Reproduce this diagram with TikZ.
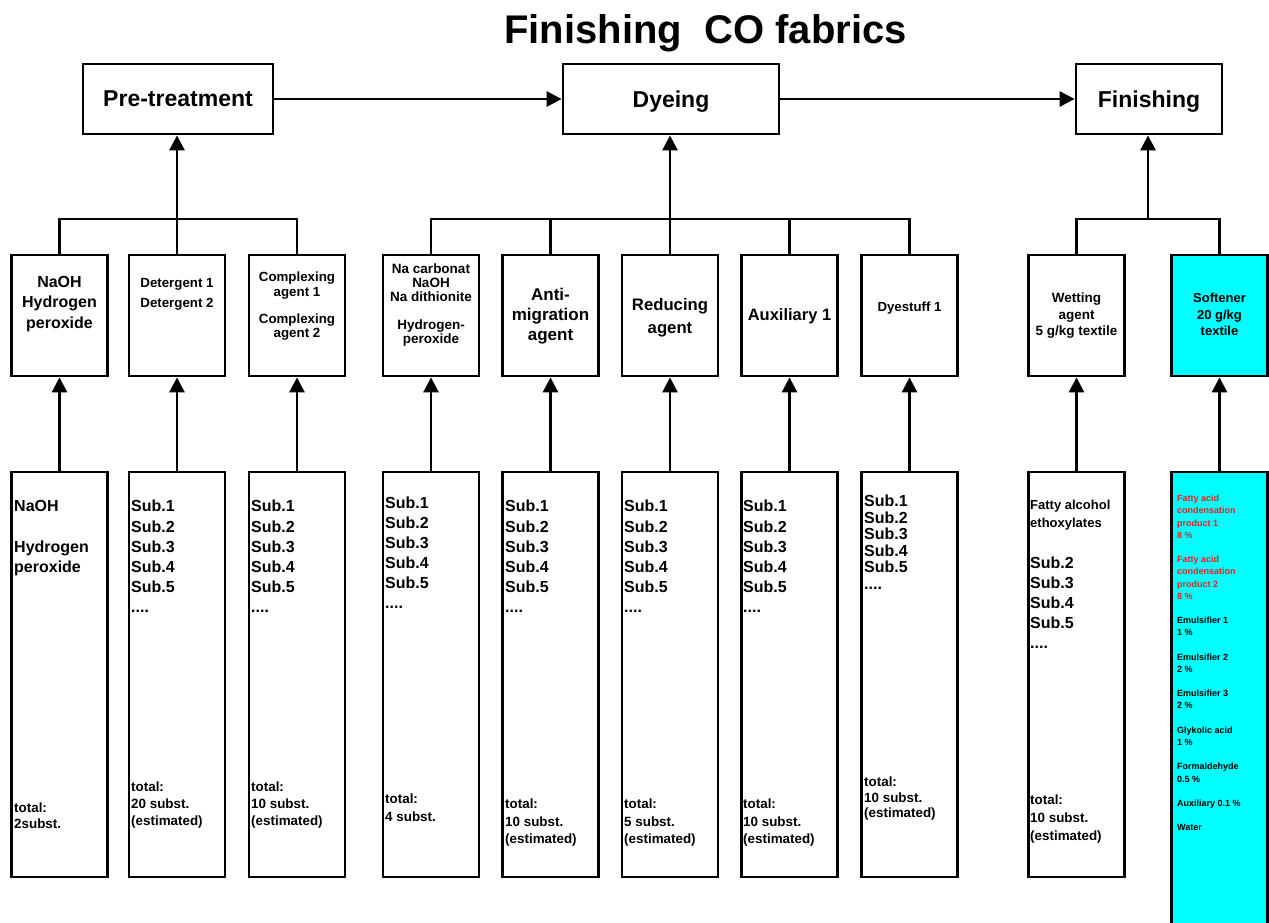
\documentclass[tikz,border=0pt]{standalone}
\usepackage{fontspec}
\setmainfont{Liberation Sans}
\usetikzlibrary{arrows.meta}
\definecolor{softcyan}{RGB}{0,255,255}
\definecolor{alertred}{RGB}{235,30,35}
% bold text at a given size and line skip
\newcommand\fs[2]{\fontsize{#1}{#2}\selectfont\bfseries}

\begin{document}
\begin{tikzpicture}[x=1pt,y=-1pt,
  box/.style={draw, line width=2.8pt, inner sep=0pt, minimum width=96pt},
  stage/.style={box, minimum height=70pt, text depth=0pt, font=\fs{23}{28}},
  agent/.style={box, minimum height=121pt},
  sublist/.style={box, minimum height=405pt},
  wire/.style={line width=2.8pt},
  arr/.style={wire, -{Triangle[length=15pt,width=15pt]}},
  ltxt/.style={inner sep=0pt, align=left, anchor=north west},
  ctxt/.style={inner sep=0pt, align=center, anchor=north},
]
\useasboundingbox (0,0) rectangle (1269,922);

% title
\node[font=\fs{40}{48}, inner sep=0pt, anchor=base] (title) at (705.5,43.3) {Finishing\ \ CO fabrics};

% process stages
\node[stage, minimum width=190pt] (pre) at (178,99) {Pre-treatment};
\node[stage, minimum width=216pt] (dye) at (671,99) {Dyeing};
\node[stage, minimum width=146pt] (fin) at (1149,99) {Finishing};
\draw[arr] (pre) -- (dye);
\draw[arr] (dye) -- (fin);

% chemical agents
\node[agent] (m1) at (59.5,315.5) {};
\node[agent] (m2) at (177,315.5) {};
\node[agent] (m3) at (297,315.5) {};
\node[agent] (m4) at (431,315.5) {};
\node[agent] (m5) at (550.5,315.5) {};
\node[agent] (m6) at (670,315.5) {};
\node[agent] (m7) at (789.5,315.5) {};
\node[agent] (m8) at (909.5,315.5) {};
\node[agent] (m9) at (1076.5,315.5) {};
\node[agent, fill=softcyan] (m10) at (1219.5,315.5) {};

\node[ctxt, font=\fs{16}{20.5}] (t1) at (59.5,276) {NaOH\\Hydrogen\\peroxide};
\node[ctxt, font=\fs{13.3}{20}] (t2) at (177,278) {Detergent 1\\Detergent 2};
\node[ctxt, font=\fs{13.3}{14.5}] (t3) at (297,272) {Complexing\\agent 1\\[12.5pt]Complexing\\agent 2};
\node[ctxt, font=\fs{13.5}{14}] (t4) at (431,264) {Na carbonat\\NaOH\\Na dithionite\\[14pt]Hydrogen-\\peroxide};
\node[ctxt, font=\fs{17}{20}] (t5) at (550.5,288) {Anti-\\migration\\agent};
\node[ctxt, font=\fs{16.7}{23}] (t6) at (670,298) {Reducing\\agent};
\node[ctxt, font=\fs{16.5}{20}] (t7) at (789.5,308) {Auxiliary 1};
\node[ctxt, font=\fs{13.2}{16}] (t8) at (909.5,302) {Dyestuff 1};
\node[ctxt, font=\fs{13.5}{16.5}] (t9) at (1076.5,293) {Wetting\\agent\\5 g/kg textile};
\node[ctxt, font=\fs{13}{16.5}] (t10) at (1219.5,293) {Softener\\20 g/kg\\textile};

% substance lists
\node[sublist] (b1) at (59.5,674.5) {};
\node[sublist] (b2) at (177,674.5) {};
\node[sublist] (b3) at (297,674.5) {};
\node[sublist] (b4) at (431,674.5) {};
\node[sublist] (b5) at (550.5,674.5) {};
\node[sublist] (b6) at (670,674.5) {};
\node[sublist] (b7) at (789.5,674.5) {};
\node[sublist] (b8) at (909.5,674.5) {};
\node[sublist] (b9) at (1076.5,674.5) {};
\node[box, minimum height=470pt, fill=softcyan] (b10) at (1219.5,707) {};

\node[ltxt, font=\fs{16}{20}] (s1) at (14,500) {NaOH\\[21pt]Hydrogen\\peroxide};
\node[ltxt, font=\fs{13.4}{16}] (n1) at (14,803) {total:\\2subst.};

\node[ltxt, font=\fs{16}{20.2}] (s2) at (131,500) {Sub.1\\Sub.2\\Sub.3\\Sub.4\\Sub.5\\....};
\node[ltxt, font=\fs{13.4}{17}] (n2) at (131,782) {total:\\20 subst.\\(estimated)};

\node[ltxt, font=\fs{16}{20.2}] (s3) at (251,500) {Sub.1\\Sub.2\\Sub.3\\Sub.4\\Sub.5\\....};
\node[ltxt, font=\fs{13.4}{17}] (n3) at (251,782) {total:\\10 subst.\\(estimated)};

\node[ltxt, font=\fs{16}{20}] (s4) at (385,497) {Sub.1\\Sub.2\\Sub.3\\Sub.4\\Sub.5\\....};
\node[ltxt, font=\fs{13.4}{18}] (n4) at (385,794) {total:\\4 subst.};

\node[ltxt, font=\fs{16}{20.2}] (s5) at (505,500) {Sub.1\\Sub.2\\Sub.3\\Sub.4\\Sub.5\\....};
\node[ltxt, font=\fs{13.4}{17.5}] (n5) at (505,799) {total:\\10 subst.\\(estimated)};

\node[ltxt, font=\fs{16}{20.2}] (s6) at (624,500) {Sub.1\\Sub.2\\Sub.3\\Sub.4\\Sub.5\\....};
\node[ltxt, font=\fs{13.4}{17.5}] (n6) at (624,799) {total:\\5 subst.\\(estimated)};

\node[ltxt, font=\fs{16}{20.2}] (s7) at (743,500) {Sub.1\\Sub.2\\Sub.3\\Sub.4\\Sub.5\\....};
\node[ltxt, font=\fs{13.4}{17.5}] (n7) at (743,799) {total:\\10 subst.\\(estimated)};

\node[ltxt, font=\fs{16}{16.5}] (s8) at (864,495) {Sub.1\\Sub.2\\Sub.3\\Sub.4\\Sub.5\\....};
\node[ltxt, font=\fs{13.4}{15.5}] (n8) at (864,777) {total:\\10 subst.\\(estimated)};

\node[ltxt, font=\fs{13}{18}] (f9) at (1030,500) {Fatty alcohol\\ethoxylates};
\node[ltxt, font=\fs{16}{20}] (s9) at (1030,557) {Sub.2\\Sub.3\\Sub.4\\Sub.5\\....};
\node[ltxt, font=\fs{13.4}{18}] (n9) at (1030,795) {total:\\10 subst.\\(estimated)};

\node[ltxt, font=\fs{9}{12.2}, text=alertred] (r10) at (1177,495) {Fatty acid\\condensation\\product 1\\8 \%\\[12.2pt]Fatty acid\\condensation\\product 2\\8 \%};
\node[ltxt, font=\fs{9}{12.2}] (s10) at (1177,616.7) {Emulsifier 1\\1 \%\\[12.2pt]Emulsifier 2\\2 \%\\[12.2pt]Emulsifier 3\\2 \%\\[12.2pt]Glykolic acid\\1 \%\\[12.2pt]Formaldehyde\\0.5 \%\\[12.2pt]Auxiliary 0.1 \%\\[12.2pt]Water};

% substances feed the agents
\foreach \i in {1,...,10} \draw[arr] (b\i.north) -- (m\i.south);

% agents feed the stages
\coordinate (jpre) at (177,219);
\coordinate (jdye) at (670,219);
\coordinate (jfin) at (1148,219);
\draw[wire] (m1.north) |- (jpre) -| (m3.north);
\draw[wire] (m2.north) -- (jpre);
\draw[arr] (jpre) -- (jpre |- pre.south);

\draw[wire] (m4.north) |- (jdye) -| (m8.north);
\draw[wire] (m5.north) -- (m5.north |- jdye);
\draw[wire] (m6.north) -- (jdye);
\draw[wire] (m7.north) -- (m7.north |- jdye);
\draw[arr] (jdye) -- (jdye |- dye.south);

\draw[wire] (m9.north) |- (jfin) -| (m10.north);
\draw[arr] (jfin) -- (jfin |- fin.south);
\end{tikzpicture}
\end{document}
